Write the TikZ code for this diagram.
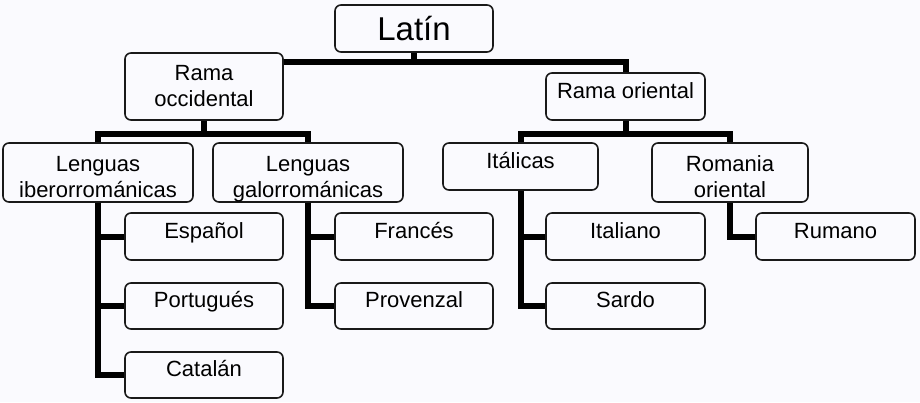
\documentclass[tikz,border=0pt]{standalone}
\usepackage{fontspec}
\setmainfont{Liberation Sans}
\definecolor{bg}{RGB}{250,250,254}
\definecolor{boxc}{RGB}{25,25,25}
\begin{document}
\begin{tikzpicture}[x=1pt,y=-1pt,
  box/.style={draw=boxc, line width=1.6pt, rounded corners=6pt, fill=bg,
    align=center, inner sep=0pt, text=black,
    font=\fontsize{22}{26}\selectfont,
    minimum width=158pt, minimum height=47pt},
  one/.style={text height=12pt, text depth=9pt},
  two/.style={text height=50pt, text depth=1pt},
  conn/.style={draw=black, line width=6pt}]
\fill[bg] (0,0) rectangle (920,402);
\useasboundingbox (0,0) rectangle (920,402);
% nodes
\node[box, font=\fontsize{33}{38}\selectfont, text height=25pt, text depth=2pt] (latin) at (414,28.5) {Latín};
\node[box, minimum height=67pt] (occ) at (204,86.5) {Rama\\occidental};
\node[box, one, minimum width=159pt] (ori) at (625.5,96.5) {Rama oriental};
\node[box, two, minimum width=190pt, minimum height=59pt] (ibe) at (98,172.5) {Lenguas\\iberorrománicas};
\node[box, two, minimum width=190pt, minimum height=59pt] (gal) at (308,172.5) {Lenguas\\galorrománicas};
\node[box, one, minimum width=155pt] (ita) at (520.5,166.5) {Itálicas};
\node[box, two, minimum width=156pt, minimum height=59pt] (rom) at (730,172.5) {Romania\\oriental};
\node[box, one] (esp) at (204,236.5) {Español};
\node[box, one, minimum height=46pt] (por) at (204,306) {Portugués};
\node[box, one, minimum height=46pt] (cat) at (204,375) {Catalán};
\node[box, one] (fra) at (414,236.5) {Francés};
\node[box, one, minimum height=46pt] (pro) at (414,306) {Provenzal};
\node[box, one, minimum width=159pt] (itn) at (625.5,236.5) {Italiano};
\node[box, one, minimum width=159pt, minimum height=46pt] (sar) at (625.5,306) {Sardo};
\node[box, one, minimum width=159pt] (rum) at (835.5,236.5) {Rumano};
% connectors
\coordinate (b1) at ([yshift=-10pt]occ.north east);
\draw[conn] (b1) -| (ori.north);
\draw[conn] (latin.south) -- (latin.south |- b1);
\coordinate (b2) at ([yshift=-13pt]occ.south);
\draw[conn] (occ.south) -- (b2);
\draw[conn] (ibe.north) |- (b2) -| (gal.north);
\coordinate (b3) at ([yshift=-13pt]ori.south);
\draw[conn] (ori.south) -- (b3);
\draw[conn] (ita.north) |- (b3) -| (rom.north);
\draw[conn] (ibe.south) |- (esp.west);
\draw[conn] (ibe.south) |- (por.west);
\draw[conn] (ibe.south) |- (cat.west);
\draw[conn] (gal.south) |- (fra.west);
\draw[conn] (gal.south) |- (pro.west);
\draw[conn] (ita.south) |- (itn.west);
\draw[conn] (ita.south) |- (sar.west);
\draw[conn] (rom.south) |- (rum.west);
\end{tikzpicture}
\end{document}
